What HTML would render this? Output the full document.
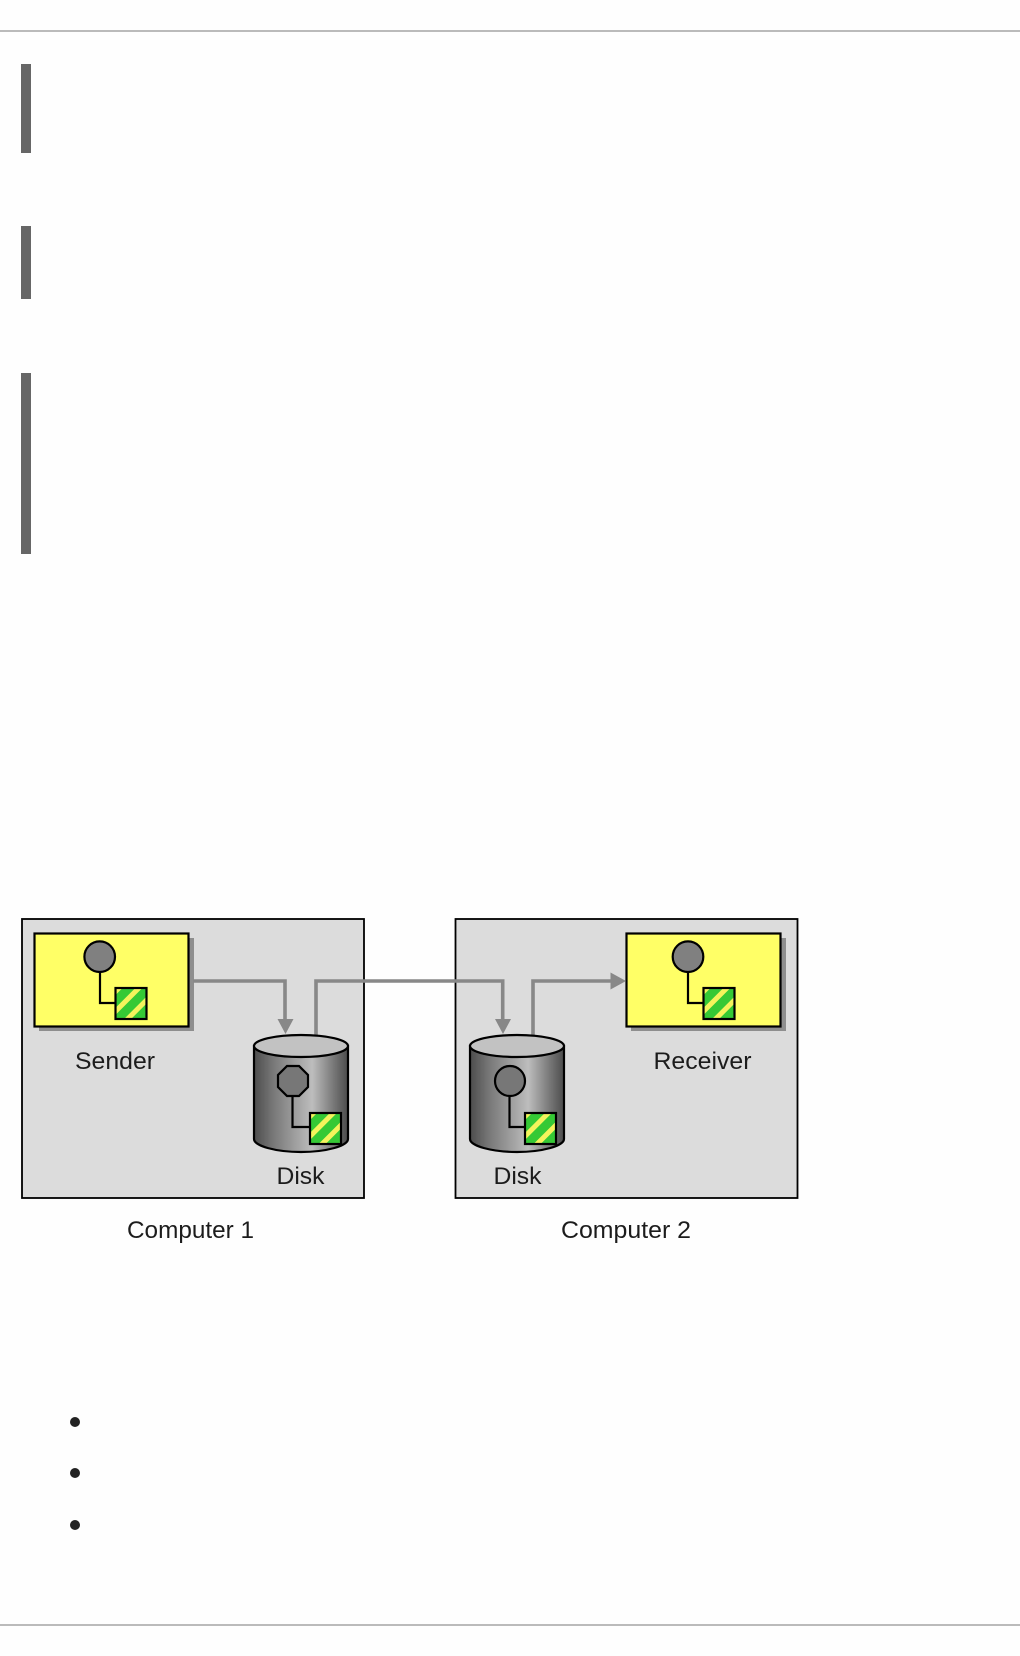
<!DOCTYPE html>
<html>
<head>
<meta charset="utf-8">
<style>
html,body{margin:0;padding:0;background:#fefefe;}
svg{display:block;}
text{font-family:"Liberation Sans",sans-serif;font-size:24px;fill:#1e1e1e;}
</style>
</head>
<body>
<svg xmlns="http://www.w3.org/2000/svg" width="1020" height="1656" viewBox="0 0 1020 1656">
<defs>
<linearGradient id="cyl" x1="0" x2="1" y1="0" y2="0">
<stop offset="0" stop-color="#4c4c4c"/>
<stop offset="0.2" stop-color="#777"/>
<stop offset="0.62" stop-color="#bdbdbd"/>
<stop offset="0.85" stop-color="#777"/>
<stop offset="1" stop-color="#4c4c4c"/>
</linearGradient>
<pattern id="stripe" width="14" height="14" patternUnits="userSpaceOnUse" patternTransform="rotate(45)">
<rect width="14" height="14" fill="#34c934"/>
<rect x="0" width="5" height="14" fill="#f4f45c"/>
</pattern>
<filter id="soft" x="-2%" y="-2%" width="104%" height="104%"><feGaussianBlur stdDeviation="0.35"/></filter>
<g id="chip">
<rect x="0" y="0" width="31" height="31" fill="url(#stripe)" stroke="#000" stroke-width="2.2"/>
</g>
<g id="cylinder">
<path d="M-47 0 V93 C-47 100 -25 106 0 106 C25 106 47 100 47 93 V0 Z" fill="url(#cyl)" stroke="#000" stroke-width="2.2"/>
<ellipse cx="0" cy="0" rx="47" ry="11" fill="#c2c2c2" stroke="#000" stroke-width="2.2"/>
</g>
</defs>

<rect width="1020" height="1656" fill="#fefefe"/>
<rect x="0" y="30" width="1020" height="2" fill="#bbb"/>
<rect x="0" y="1624" width="1020" height="2" fill="#bbb"/>
<rect x="21" y="64" width="10" height="89" fill="#666"/>
<rect x="21" y="226" width="10" height="73" fill="#666"/>
<rect x="21" y="373" width="10" height="181" fill="#666"/>

<circle cx="75" cy="1422" r="5" fill="#222"/>
<circle cx="75" cy="1473" r="5" fill="#222"/>
<circle cx="75" cy="1525" r="5" fill="#222"/>

<g filter="url(#soft)">
<rect x="22" y="919" width="342" height="279" fill="#dcdcdc" stroke="#000" stroke-width="1.8"/>
<rect x="455.5" y="919" width="342" height="279" fill="#dcdcdc" stroke="#000" stroke-width="1.8"/>

<rect x="39" y="938" width="155" height="93" fill="#8e8e8e"/>
<rect x="34.5" y="933.5" width="154" height="93" fill="#ffff66" stroke="#000" stroke-width="2.2"/>
<circle cx="99.7" cy="956.7" r="15.3" fill="#808080" stroke="#000" stroke-width="2.2"/>
<path d="M100 972 V1003 H116" fill="none" stroke="#000" stroke-width="2.2"/>
<use href="#chip" x="115.5" y="988"/>

<rect x="631" y="938" width="155" height="93" fill="#8e8e8e"/>
<rect x="626.5" y="933.5" width="154" height="93" fill="#ffff66" stroke="#000" stroke-width="2.2"/>
<circle cx="688" cy="956.7" r="15.3" fill="#808080" stroke="#000" stroke-width="2.2"/>
<path d="M688 972 V1003 H704" fill="none" stroke="#000" stroke-width="2.2"/>
<use href="#chip" x="703.5" y="988"/>

<path d="M193 981 H285 V1022" fill="none" stroke="#888" stroke-width="3.6"/>
<path d="M316 1037 V981 H502.7 V1022" fill="none" stroke="#888" stroke-width="3.6"/>
<path d="M533 1037 V981 H612" fill="none" stroke="#888" stroke-width="3.6"/>
<polygon points="277.5,1019 293.5,1019 285.5,1034" fill="#888"/>
<polygon points="495,1019 511,1019 503,1034" fill="#888"/>
<polygon points="610.5,972.5 610.5,989.5 626,981" fill="#888"/>

<use href="#cylinder" x="301" y="1046"/>
<polygon points="287,1066 299,1066 308,1075 308,1087 299,1096 287,1096 278,1087 278,1075" fill="#777" stroke="#000" stroke-width="2.2"/>
<path d="M292.5 1096 V1127 H310" fill="none" stroke="#000" stroke-width="2.2"/>
<use href="#chip" x="310" y="1113"/>

<use href="#cylinder" x="517" y="1046"/>
<circle cx="510" cy="1081" r="15" fill="#777" stroke="#000" stroke-width="2.2"/>
<path d="M509.5 1096 V1127 H526" fill="none" stroke="#000" stroke-width="2.2"/>
<use href="#chip" x="525" y="1113"/>

<text x="75" y="1069" textLength="80" lengthAdjust="spacingAndGlyphs">Sender</text>
<text x="653.5" y="1069" textLength="98" lengthAdjust="spacingAndGlyphs">Receiver</text>
<text x="276.5" y="1184" textLength="48" lengthAdjust="spacingAndGlyphs">Disk</text>
<text x="493.5" y="1184" textLength="48" lengthAdjust="spacingAndGlyphs">Disk</text>
<text x="127" y="1238" textLength="127" lengthAdjust="spacingAndGlyphs">Computer 1</text>
<text x="561" y="1238" textLength="130" lengthAdjust="spacingAndGlyphs">Computer 2</text>
</g>
</svg>
</body>
</html>
